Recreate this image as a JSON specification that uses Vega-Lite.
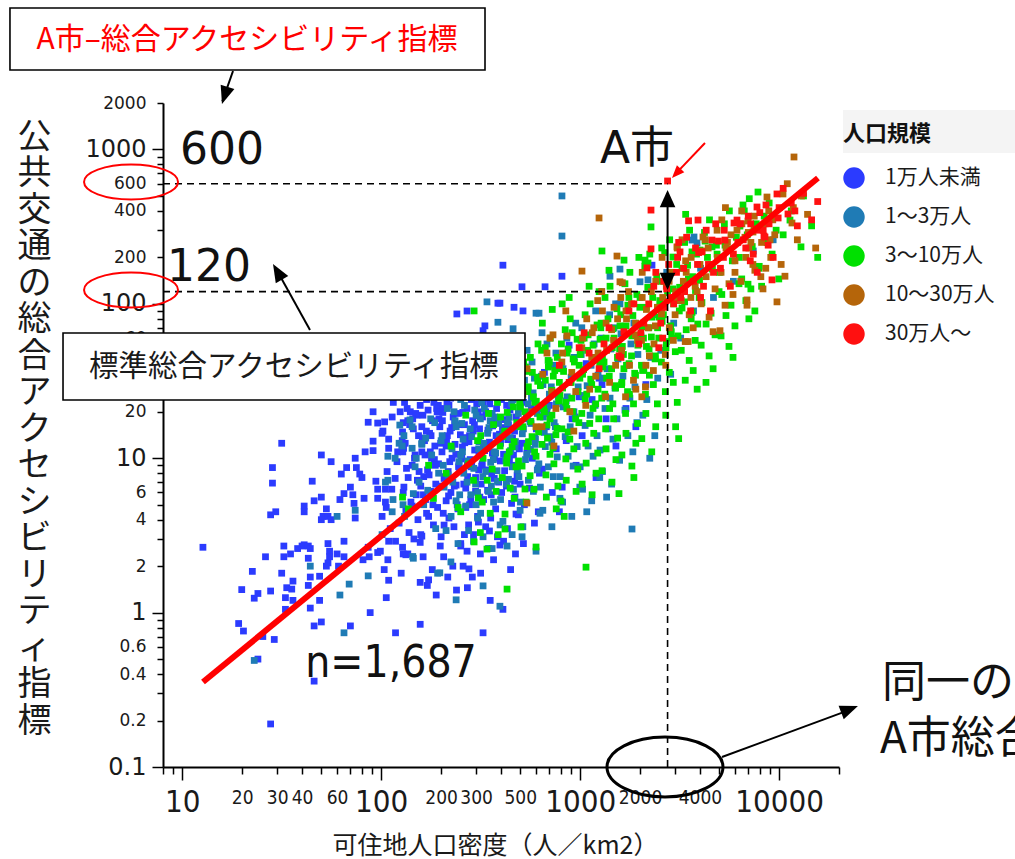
{
"$schema":"https://vega.github.io/schema/vega-lite/v6.json",
"width":676,"height":664,
"autosize":{"type":"none"},
"padding":{"left":163,"top":103,"right":176,"bottom":92},
"background":"white",
"config":{"view":{"stroke":null}},
"datasets":{
"pts":[
{"x":12.7,"y":2.65,"g":"a"},{"x":19.2,"y":0.85,"g":"a"},{"x":20.3,"y":0.76,"g":"a"},{"x":19.9,"y":1.41,"g":"a"},{"x":23,"y":1.24,"g":"a"},{"x":24,"y":1.33,"g":"a"},{"x":22.5,"y":1.85,"g":"a"},{"x":24,"y":0.5,"g":"a"},{"x":26.2,"y":2.3,"g":"a"},{"x":27.8,"y":0.19,"g":"a"},{"x":28.4,"y":8.7,"g":"a"},{"x":28.4,"y":6.9,"g":"a"},{"x":31.6,"y":12.5,"g":"a"},{"x":27.8,"y":4.3,"g":"a"},{"x":29.5,"y":4.5,"g":"a"},{"x":27.8,"y":1.38,"g":"a"},{"x":31.6,"y":1.8,"g":"a"},{"x":29,"y":0.67,"g":"a"},{"x":25.4,"y":0.7,"g":"a"},{"x":32.4,"y":2.7,"g":"a"},{"x":32.4,"y":2.3,"g":"a"},{"x":35,"y":2.4,"g":"a"},{"x":33,"y":1.25,"g":"a"},{"x":33.5,"y":1.45,"g":"a"},{"x":36,"y":1.2,"g":"a"},{"x":36,"y":1.6,"g":"a"},{"x":35.5,"y":1.42,"g":"a"},{"x":33,"y":1.05,"g":"a"},{"x":38,"y":2.6,"g":"a"},{"x":40,"y":2.7,"g":"a"},{"x":41,"y":2.75,"g":"a"},{"x":43,"y":2.7,"g":"a"},{"x":44,"y":2.6,"g":"a"},{"x":43,"y":2.25,"g":"a"},{"x":44,"y":1.7,"g":"a"},{"x":43,"y":1.5,"g":"a"},{"x":44,"y":1.07,"g":"a"},{"x":46,"y":0.82,"g":"a"},{"x":50,"y":0.87,"g":"a"},{"x":49,"y":1.72,"g":"a"},{"x":49,"y":1.2,"g":"a"},{"x":46,"y":0.36,"g":"a"},{"x":41,"y":4.9,"g":"a"},{"x":41,"y":4.5,"g":"a"},{"x":45,"y":7.1,"g":"a"},{"x":46,"y":5.3,"g":"a"},{"x":50,"y":5.6,"g":"a"},{"x":50,"y":10.5,"g":"a"},{"x":50,"y":4.0,"g":"a"},{"x":51,"y":4.2,"g":"a"},{"x":54,"y":4.2,"g":"a"},{"x":56,"y":4.0,"g":"a"},{"x":53,"y":4.7,"g":"a"},{"x":56,"y":9.5,"g":"a"},{"x":54,"y":2.8,"g":"a"},{"x":55,"y":2.5,"g":"a"},{"x":60,"y":2.4,"g":"a"},{"x":55,"y":2.3,"g":"a"},{"x":54,"y":2.1,"g":"a"},{"x":53,"y":2.0,"g":"a"},{"x":61,"y":2.0,"g":"a"},{"x":65,"y":2.9,"g":"a"},{"x":65,"y":2.3,"g":"a"},{"x":70,"y":0.82,"g":"a"},{"x":63,"y":7.9,"g":"a"},{"x":67,"y":8.7,"g":"a"},{"x":70,"y":6.5,"g":"a"},{"x":65,"y":5.9,"g":"a"},{"x":72,"y":5.8,"g":"a"},{"x":73,"y":5.1,"g":"a"},{"x":62,"y":5.4,"g":"a"},{"x":74,"y":10,"g":"a"},{"x":75,"y":8.7,"g":"a"},{"x":78,"y":7.9,"g":"a"},{"x":74,"y":4.1,"g":"a"},{"x":80,"y":7.5,"g":"a"},{"x":82,"y":5.5,"g":"a"},{"x":86,"y":17.1,"g":"a"},{"x":91,"y":20,"g":"a"},{"x":96,"y":16.9,"g":"a"},{"x":83,"y":11,"g":"a"},{"x":91,"y":11.2,"g":"a"},{"x":91,"y":12.9,"g":"a"},{"x":94,"y":7.1,"g":"a"},{"x":96,"y":6.3,"g":"a"},{"x":96,"y":5.5,"g":"a"},{"x":86,"y":2.65,"g":"a"},{"x":87,"y":2.3,"g":"a"},{"x":81,"y":2.2,"g":"a"},{"x":96,"y":2.45,"g":"a"},{"x":99,"y":2.5,"g":"a"},{"x":88,"y":1.0,"g":"a"},
{"x":101,"y":4.2,"g":"a"},{"x":104,"y":17.2,"g":"a"},{"x":105,"y":6.3,"g":"a"},{"x":106,"y":4.8,"g":"a"},{"x":109,"y":13.3,"g":"a"},{"x":109,"y":11.6,"g":"a"},{"x":109,"y":1.62,"g":"a"},{"x":106,"y":1.25,"g":"a"},{"x":109,"y":2.9,"g":"a"},{"x":118,"y":2.9,"g":"a"},{"x":118,"y":0.74,"g":"a"},{"x":113,"y":6.3,"g":"a"},{"x":121,"y":11,"g":"a"},{"x":107,"y":8.2,"g":"a"},{"x":120,"y":9.5,"g":"a"},{"x":102,"y":15,"g":"a"},{"x":115,"y":23,"g":"a"},{"x":124.5,"y":20,"g":"a"},{"x":111,"y":3.5,"g":"a"},{"x":105,"y":5.2,"g":"a"},{"x":117.5,"y":7.4,"g":"a"},{"x":101,"y":14.5,"g":"a"},{"x":113.5,"y":18.5,"g":"a"},{"x":123,"y":3.8,"g":"a"},{"x":108,"y":2.2,"g":"a"},{"x":103.5,"y":1.9,"g":"a"},
{"x":128,"y":14.8,"g":"a"},{"x":128,"y":2.65,"g":"a"},{"x":136,"y":2.4,"g":"a"},{"x":157,"y":1.57,"g":"a"},{"x":157,"y":0.84,"g":"a"},{"x":135,"y":21,"g":"a"},{"x":151,"y":19,"g":"a"},{"x":129,"y":17,"g":"a"},{"x":145,"y":15.5,"g":"a"},{"x":157,"y":22,"g":"a"},{"x":140,"y":20,"g":"a"},{"x":132,"y":12.5,"g":"a"},{"x":148,"y":10.5,"g":"a"},{"x":127.5,"y":13,"g":"a"},{"x":143,"y":9,"g":"a"},{"x":155,"y":8.2,"g":"a"},{"x":136.6,"y":7.5,"g":"a"},{"x":130,"y":6.5,"g":"a"},{"x":150,"y":5.8,"g":"a"},{"x":141,"y":5.2,"g":"a"},{"x":133,"y":4.6,"g":"a"},{"x":153,"y":4.0,"g":"a"},{"x":138,"y":3.3,"g":"a"},{"x":146,"y":3.0,"g":"a"},{"x":126,"y":1.8,"g":"a"},{"x":158,"y":6.6,"g":"a"},{"x":129.5,"y":11.6,"g":"a"},{"x":144,"y":18,"g":"a"},{"x":136,"y":17.5,"g":"a"},{"x":151,"y":25,"g":"a"},{"x":128.4,"y":11,"g":"a"},{"x":160,"y":3.13,"g":"a"},{"x":157,"y":2.85,"g":"a"},{"x":129,"y":2.4,"g":"a"},{"x":133,"y":2.37,"g":"a"},{"x":173,"y":1.63,"g":"a"},
{"x":169,"y":24,"g":"a"},{"x":190,"y":21,"g":"a"},{"x":162,"y":19,"g":"a"},{"x":181,"y":17.5,"g":"a"},{"x":197,"y":16,"g":"a"},{"x":175,"y":14.5,"g":"a"},{"x":165,"y":13,"g":"a"},{"x":186,"y":12,"g":"a"},{"x":160,"y":11,"g":"a"},{"x":179,"y":10,"g":"a"},{"x":194,"y":9.2,"g":"a"},{"x":171,"y":8.4,"g":"a"},{"x":163.5,"y":7.6,"g":"a"},{"x":188,"y":6.8,"g":"a"},{"x":177,"y":6.1,"g":"a"},{"x":167,"y":5.4,"g":"a"},{"x":192,"y":4.8,"g":"a"},{"x":173,"y":4.2,"g":"a"},{"x":183,"y":3.7,"g":"a"},{"x":158,"y":3.2,"g":"a"},{"x":198,"y":2.7,"g":"a"},{"x":162.4,"y":2.3,"g":"a"},{"x":180.6,"y":1.9,"g":"a"},{"x":170.5,"y":1.5,"g":"a"},{"x":189,"y":1.3,"g":"a"},{"x":161,"y":13.5,"g":"a"},{"x":176.5,"y":11,"g":"a"},{"x":185,"y":9.8,"g":"a"},{"x":168.6,"y":15,"g":"a"},{"x":193.6,"y":22,"g":"a"},{"x":170,"y":26,"g":"a"},{"x":191,"y":20,"g":"a"},
{"x":214,"y":23,"g":"a"},{"x":240,"y":27,"g":"a"},{"x":205,"y":21,"g":"a"},{"x":230,"y":18.5,"g":"a"},{"x":249,"y":16.5,"g":"a"},{"x":222,"y":15,"g":"a"},{"x":209,"y":13.5,"g":"a"},{"x":235,"y":12.3,"g":"a"},{"x":202,"y":11,"g":"a"},{"x":227,"y":10,"g":"a"},{"x":246,"y":9,"g":"a"},{"x":217,"y":8.2,"g":"a"},{"x":207,"y":7.4,"g":"a"},{"x":238,"y":6.7,"g":"a"},{"x":224,"y":6,"g":"a"},{"x":212,"y":5.3,"g":"a"},{"x":243,"y":4.7,"g":"a"},{"x":219,"y":4.1,"g":"a"},{"x":232,"y":3.6,"g":"a"},{"x":200,"y":3.1,"g":"a"},{"x":251,"y":2.7,"g":"a"},{"x":206,"y":2.3,"g":"a"},{"x":229,"y":2.0,"g":"a"},{"x":216,"y":1.7,"g":"a"},{"x":239,"y":1.4,"g":"a"},{"x":204,"y":19.8,"g":"a"},{"x":223,"y":24.5,"g":"a"},{"x":234,"y":17,"g":"a"},{"x":213,"y":12.8,"g":"a"},{"x":245,"y":8.8,"g":"a"},{"x":215,"y":14,"g":"a"},{"x":240,"y":86,"g":"a"},{"x":207,"y":3.69,"g":"a"},
{"x":269,"y":26,"g":"a"},{"x":302,"y":22.5,"g":"a"},{"x":257,"y":19.8,"g":"a"},{"x":288,"y":17.5,"g":"a"},{"x":312,"y":15.5,"g":"a"},{"x":278,"y":14,"g":"a"},{"x":263,"y":12.6,"g":"a"},{"x":295,"y":11.3,"g":"a"},{"x":254,"y":10.2,"g":"a"},{"x":285,"y":9.3,"g":"a"},{"x":309,"y":8.4,"g":"a"},{"x":272,"y":7.6,"g":"a"},{"x":260,"y":6.8,"g":"a"},{"x":298,"y":6.1,"g":"a"},{"x":282,"y":5.4,"g":"a"},{"x":266,"y":4.8,"g":"a"},{"x":305,"y":4.2,"g":"a"},{"x":275,"y":3.7,"g":"a"},{"x":291,"y":3.2,"g":"a"},{"x":251,"y":2.8,"g":"a"},{"x":315,"y":2.4,"g":"a"},{"x":258,"y":2.0,"g":"a"},{"x":287,"y":1.7,"g":"a"},{"x":271,"y":1.45,"g":"a"},{"x":300,"y":30,"g":"a"},{"x":256,"y":11.8,"g":"a"},{"x":280,"y":9.8,"g":"a"},{"x":294,"y":16.5,"g":"a"},{"x":268,"y":13.6,"g":"a"},{"x":307.5,"y":20,"g":"a"},{"x":262,"y":3.2,"g":"a"},{"x":270,"y":89.9,"g":"a"},{"x":276,"y":1.92,"g":"a"},{"x":270,"y":2.5,"g":"a"},{"x":308,"y":3.86,"g":"a"},
{"x":339,"y":24.5,"g":"a"},{"x":380,"y":21,"g":"a"},{"x":323,"y":18.5,"g":"a"},{"x":363,"y":16.2,"g":"a"},{"x":393,"y":14.3,"g":"a"},{"x":350,"y":12.7,"g":"a"},{"x":331,"y":11.2,"g":"a"},{"x":371,"y":10,"g":"a"},{"x":320,"y":8.9,"g":"a"},{"x":359,"y":7.9,"g":"a"},{"x":389,"y":7,"g":"a"},{"x":342.5,"y":6.2,"g":"a"},{"x":327,"y":5.4,"g":"a"},{"x":376,"y":4.7,"g":"a"},{"x":355,"y":4.1,"g":"a"},{"x":335,"y":3.6,"g":"a"},{"x":384,"y":3.1,"g":"a"},{"x":346,"y":2.6,"g":"a"},{"x":367,"y":2.2,"g":"a"},{"x":316,"y":1.8,"g":"a"},{"x":396,"y":28,"g":"a"},{"x":325,"y":23,"g":"a"},{"x":361,"y":19.5,"g":"a"},{"x":341,"y":12,"g":"a"},{"x":378,"y":14,"g":"a"},{"x":322,"y":9.2,"g":"a"},{"x":353,"y":1.2,"g":"a"},{"x":332,"y":72,"g":"a"},{"x":325,"y":67,"g":"a"},{"x":386,"y":101,"g":"a"},{"x":395,"y":101,"g":"a"},{"x":325,"y":0.74,"g":"a"},{"x":395,"y":2.74,"g":"a"},{"x":350,"y":3.38,"g":"a"},
{"x":427,"y":22,"g":"a"},{"x":478,"y":18.5,"g":"a"},{"x":407,"y":15.8,"g":"a"},{"x":457,"y":13.5,"g":"a"},{"x":495,"y":11.5,"g":"a"},{"x":441,"y":9.8,"g":"a"},{"x":417,"y":8.3,"g":"a"},{"x":468,"y":7.1,"g":"a"},{"x":403,"y":6,"g":"a"},{"x":452,"y":5.1,"g":"a"},{"x":489,"y":4.3,"g":"a"},{"x":431,"y":3.5,"g":"a"},{"x":412,"y":2.9,"g":"a"},{"x":473,"y":2.4,"g":"a"},{"x":447,"y":1.9,"g":"a"},{"x":421,"y":27,"g":"a"},{"x":484,"y":24.5,"g":"a"},{"x":436,"y":16.5,"g":"a"},{"x":462,"y":10.5,"g":"a"},{"x":398,"y":12.5,"g":"a"},{"x":499,"y":6.8,"g":"a"},{"x":409,"y":1.05,"g":"a"},{"x":409,"y":178,"g":"a"},{"x":465,"y":95,"g":"a"},{"x":476,"y":4.35,"g":"a"},
{"x":537,"y":19,"g":"a"},{"x":602,"y":15.5,"g":"a"},{"x":512.5,"y":12.5,"g":"a"},{"x":575,"y":10,"g":"a"},{"x":624,"y":8,"g":"a"},{"x":556,"y":6.4,"g":"a"},{"x":524.5,"y":5,"g":"a"},{"x":589,"y":3.8,"g":"a"},{"x":507,"y":25,"g":"a"},{"x":569,"y":21,"g":"a"},{"x":616,"y":4.5,"g":"a"},{"x":543,"y":12,"g":"a"},{"x":518.5,"y":2.8,"g":"a"},{"x":516,"y":90,"g":"a"},{"x":510,"y":129,"g":"a"},
{"x":676,"y":16,"g":"a"},{"x":758,"y":11.5,"g":"a"},{"x":645,"y":8.5,"g":"a"},{"x":724,"y":6,"g":"a"},{"x":786,"y":4.5,"g":"a"},{"x":700,"y":22,"g":"a"},{"x":661,"y":36,"g":"a"},{"x":666,"y":129,"g":"a"},
{"x":851,"y":13,"g":"a"},{"x":954,"y":9,"g":"a"},{"x":812,"y":6.5,"g":"a"},{"x":911,"y":18,"g":"a"},{"x":988,"y":25,"g":"a"},{"x":880,"y":54,"g":"a"},{"x":810,"y":151,"g":"a"},
{"x":1072,"y":41,"g":"a"},{"x":1202,"y":7.5,"g":"a"},{"x":1023,"y":14,"g":"a"},{"x":1148,"y":24,"g":"a"},{"x":1245,"y":33,"g":"a"},{"x":1350,"y":18,"g":"a"},{"x":1513,"y":12,"g":"a"},{"x":1288,"y":30,"g":"a"},{"x":1699,"y":21,"g":"a"},{"x":1905,"y":16,"g":"a"},{"x":2296,"y":178,"g":"a"},{"x":2139,"y":30,"g":"a"},
{"x":131,"y":23,"g":"a"},{"x":149,"y":19.5,"g":"a"},{"x":139,"y":16.5,"g":"a"},{"x":154,"y":14,"g":"a"},{"x":127,"y":12,"g":"a"},{"x":147,"y":10,"g":"a"},{"x":134,"y":8.6,"g":"a"},{"x":152,"y":7.2,"g":"a"},{"x":129,"y":6,"g":"a"},{"x":143,"y":4.9,"g":"a"},
{"x":165,"y":27,"g":"a"},{"x":184,"y":23,"g":"a"},{"x":172,"y":20.5,"g":"a"},{"x":195,"y":18,"g":"a"},{"x":160,"y":16,"g":"a"},{"x":178,"y":14,"g":"a"},{"x":199,"y":12.5,"g":"a"},{"x":166,"y":10.5,"g":"a"},{"x":187,"y":9,"g":"a"},{"x":174,"y":7.8,"g":"a"},{"x":196,"y":6.6,"g":"a"},{"x":163,"y":5.8,"g":"a"},{"x":182,"y":5,"g":"a"},{"x":169,"y":4.4,"g":"a"},
{"x":206,"y":29,"g":"a"},{"x":231,"y":25.5,"g":"a"},{"x":219,"y":22,"g":"a"},{"x":244,"y":19.5,"g":"a"},{"x":203,"y":17.5,"g":"a"},{"x":226,"y":15.8,"g":"a"},{"x":250,"y":14.2,"g":"a"},{"x":212,"y":12,"g":"a"},{"x":237,"y":10.6,"g":"a"},{"x":221,"y":9.5,"g":"a"},{"x":248,"y":8.5,"g":"a"},{"x":208,"y":7.6,"g":"a"},{"x":233,"y":6.6,"g":"a"},{"x":218,"y":5.7,"g":"a"},{"x":241,"y":5,"g":"a"},{"x":205,"y":4.4,"g":"a"},
{"x":258,"y":28,"g":"a"},{"x":284,"y":24,"g":"a"},{"x":270,"y":21,"g":"a"},{"x":301,"y":18.8,"g":"a"},{"x":262,"y":16.5,"g":"a"},{"x":290,"y":15,"g":"a"},{"x":276,"y":12.8,"g":"a"},{"x":310,"y":11,"g":"a"},{"x":253,"y":9.9,"g":"a"},{"x":283,"y":8.8,"g":"a"},{"x":298,"y":7.5,"g":"a"},{"x":266,"y":6.4,"g":"a"},{"x":313,"y":5.6,"g":"a"},{"x":278,"y":5,"g":"a"},
{"x":322,"y":26.5,"g":"a"},{"x":351,"y":22.5,"g":"a"},{"x":335,"y":20,"g":"a"},{"x":374,"y":17.5,"g":"a"},{"x":344,"y":15.2,"g":"a"},{"x":388,"y":13,"g":"a"},{"x":328,"y":11.8,"g":"a"},{"x":362,"y":10.8,"g":"a"},{"x":397,"y":9.6,"g":"a"},{"x":340,"y":8.4,"g":"a"},{"x":370,"y":7.4,"g":"a"},{"x":318,"y":6.8,"g":"a"},{"x":357,"y":5.8,"g":"a"},
{"x":402,"y":24,"g":"a"},{"x":444,"y":20.5,"g":"a"},{"x":420,"y":17.8,"g":"a"},{"x":468,"y":15,"g":"a"},{"x":433,"y":13.2,"g":"a"},{"x":490,"y":12.2,"g":"a"},{"x":412,"y":10.6,"g":"a"},{"x":456,"y":9,"g":"a"},{"x":482,"y":7.8,"g":"a"},{"x":426,"y":6.6,"g":"a"},{"x":470,"y":5.6,"g":"a"},
{"x":520,"y":23,"g":"a"},{"x":560,"y":17.3,"g":"a"},{"x":590,"y":13.6,"g":"a"},{"x":540,"y":10.8,"g":"a"},{"x":615,"y":8.6,"g":"a"},
{"x":23,"y":0.49,"g":"b"},{"x":65,"y":0.74,"g":"b"},{"x":62,"y":1.3,"g":"b"},{"x":69,"y":1.53,"g":"b"},{"x":44,"y":2.0,"g":"b"},{"x":74,"y":4.6,"g":"b"},{"x":86,"y":1.73,"g":"b"},{"x":60,"y":4.2,"g":"b"},{"x":105,"y":7.0,"g":"b"},{"x":117.5,"y":10,"g":"b"},{"x":101,"y":3.2,"g":"b"},{"x":113.5,"y":4.5,"g":"b"},{"x":123,"y":12.5,"g":"b"},{"x":124,"y":16.4,"g":"b"},{"x":139.5,"y":17.7,"g":"b"},{"x":143,"y":11.6,"g":"b"},{"x":108,"y":10.3,"g":"b"},{"x":108,"y":7.2,"g":"b"},{"x":114.6,"y":5.4,"g":"b"},{"x":128.7,"y":5.0,"g":"b"},{"x":131,"y":4.2,"g":"b"},{"x":145,"y":5.9,"g":"b"},{"x":160,"y":12.3,"g":"b"},{"x":145,"y":2.25,"g":"b"},{"x":148,"y":8.8,"g":"b"},{"x":127.5,"y":12,"g":"b"},{"x":143,"y":16,"g":"b"},{"x":155,"y":7,"g":"b"},{"x":136.6,"y":4.6,"g":"b"},{"x":130,"y":14,"g":"b"},{"x":150,"y":10,"g":"b"},
{"x":185.7,"y":17,"g":"b"},{"x":159.9,"y":12.5,"g":"b"},{"x":179.3,"y":10.5,"g":"b"},{"x":194.3,"y":8,"g":"b"},{"x":171.3,"y":6.2,"g":"b"},{"x":163.5,"y":5,"g":"b"},{"x":187.9,"y":3.5,"g":"b"},{"x":177.3,"y":18,"g":"b"},{"x":167.3,"y":13.5,"g":"b"},{"x":192.1,"y":1.8,"g":"b"},
{"x":235,"y":17.5,"g":"b"},{"x":202.4,"y":14,"g":"b"},{"x":227,"y":11.5,"g":"b"},{"x":246,"y":9.5,"g":"b"},{"x":216.8,"y":7.8,"g":"b"},{"x":207,"y":6.5,"g":"b"},{"x":237.8,"y":5.3,"g":"b"},{"x":224.4,"y":4.2,"g":"b"},{"x":211.8,"y":3.4,"g":"b"},{"x":243.2,"y":2.8,"g":"b"},{"x":219.2,"y":25,"g":"b"},{"x":232.2,"y":20,"g":"b"},{"x":200,"y":13,"g":"b"},{"x":250.8,"y":10.5,"g":"b"},{"x":224,"y":2.13,"g":"b"},{"x":197,"y":1.81,"g":"b"},{"x":238,"y":1.21,"g":"b"},{"x":144,"y":2.31,"g":"b"},
{"x":295,"y":20.5,"g":"b"},{"x":254,"y":16.8,"g":"b"},{"x":285,"y":13.8,"g":"b"},{"x":309,"y":11.5,"g":"b"},{"x":272,"y":9.6,"g":"b"},{"x":260,"y":8,"g":"b"},{"x":298,"y":6.8,"g":"b"},{"x":282,"y":5.8,"g":"b"},{"x":266,"y":4.9,"g":"b"},{"x":305,"y":4.1,"g":"b"},{"x":275,"y":3.4,"g":"b"},{"x":291,"y":2.9,"g":"b"},{"x":251,"y":24,"g":"b"},{"x":315,"y":18,"g":"b"},{"x":258,"y":13.3,"g":"b"},{"x":287,"y":28,"g":"b"},{"x":271,"y":9,"g":"b"},{"x":300,"y":5,"g":"b"},{"x":325,"y":1.49,"g":"b"},{"x":395,"y":1.10,"g":"b"},
{"x":371,"y":27,"g":"b"},{"x":320,"y":23,"g":"b"},{"x":359,"y":19.5,"g":"b"},{"x":389,"y":16.8,"g":"b"},{"x":342.5,"y":14.5,"g":"b"},{"x":327,"y":12.5,"g":"b"},{"x":376,"y":10.8,"g":"b"},{"x":355,"y":9.4,"g":"b"},{"x":335,"y":8.2,"g":"b"},{"x":384,"y":7.1,"g":"b"},{"x":346,"y":6.1,"g":"b"},{"x":367,"y":5.2,"g":"b"},{"x":316,"y":4.4,"g":"b"},{"x":396,"y":3.7,"g":"b"},{"x":325,"y":3.1,"g":"b"},{"x":361,"y":2.6,"g":"b"},{"x":341,"y":30,"g":"b"},{"x":378,"y":34,"g":"b"},{"x":322,"y":25.5,"g":"b"},{"x":353,"y":17.5,"g":"b"},{"x":370,"y":11,"g":"b"},{"x":340,"y":103,"g":"b"},
{"x":468,"y":30,"g":"b"},{"x":403,"y":26,"g":"b"},{"x":452,"y":22.5,"g":"b"},{"x":489,"y":19.5,"g":"b"},{"x":431,"y":17,"g":"b"},{"x":412,"y":14.8,"g":"b"},{"x":473,"y":12.8,"g":"b"},{"x":447,"y":11.2,"g":"b"},{"x":421.5,"y":9.7,"g":"b"},{"x":484,"y":8.4,"g":"b"},{"x":436,"y":7.3,"g":"b"},{"x":462,"y":6.3,"g":"b"},{"x":398,"y":5.4,"g":"b"},{"x":499,"y":4.6,"g":"b"},{"x":409,"y":3.9,"g":"b"},{"x":455,"y":3.2,"g":"b"},{"x":429,"y":2.7,"g":"b"},{"x":476,"y":38,"g":"b"},{"x":406,"y":35,"g":"b"},{"x":445,"y":13.6,"g":"b"},{"x":460,"y":69,"g":"b"},{"x":386,"y":76,"g":"b"},{"x":600,"y":87,"g":"b"},{"x":621,"y":87,"g":"b"},
{"x":589,"y":33,"g":"b"},{"x":507,"y":28.5,"g":"b"},{"x":569,"y":24.5,"g":"b"},{"x":616,"y":21,"g":"b"},{"x":543,"y":18,"g":"b"},{"x":518.5,"y":15.5,"g":"b"},{"x":596,"y":13.3,"g":"b"},{"x":562,"y":11.4,"g":"b"},{"x":531,"y":9.8,"g":"b"},{"x":609,"y":8.4,"g":"b"},{"x":549,"y":7.2,"g":"b"},{"x":582,"y":6.1,"g":"b"},{"x":501,"y":5.2,"g":"b"},{"x":628,"y":4.4,"g":"b"},{"x":515,"y":3.6,"g":"b"},{"x":573,"y":42,"g":"b"},{"x":541,"y":50,"g":"b"},{"x":600,"y":2.5,"g":"b"},{"x":510.5,"y":3.1,"g":"b"},
{"x":741,"y":40,"g":"b"},{"x":639,"y":34,"g":"b"},{"x":716,"y":29,"g":"b"},{"x":776,"y":25,"g":"b"},{"x":684,"y":21.5,"g":"b"},{"x":653,"y":18.5,"g":"b"},{"x":750,"y":16,"g":"b"},{"x":708,"y":13.8,"g":"b"},{"x":668,"y":11.9,"g":"b"},{"x":767,"y":10.2,"g":"b"},{"x":692,"y":8.8,"g":"b"},{"x":733,"y":7.6,"g":"b"},{"x":631,"y":6.5,"g":"b"},{"x":791,"y":5.5,"g":"b"},{"x":649,"y":4.6,"g":"b"},{"x":721,"y":3.6,"g":"b"},{"x":681,"y":55,"g":"b"},{"x":755,"y":48,"g":"b"},{"x":643,"y":65,"g":"b"},
{"x":933,"y":45,"g":"b"},{"x":803.5,"y":39,"g":"b"},{"x":901,"y":33.5,"g":"b"},{"x":977,"y":29,"g":"b"},{"x":861,"y":25,"g":"b"},{"x":822,"y":21.5,"g":"b"},{"x":944,"y":18.5,"g":"b"},{"x":891,"y":16,"g":"b"},{"x":841,"y":13.8,"g":"b"},{"x":965.5,"y":11.9,"g":"b"},{"x":870,"y":10.3,"g":"b"},{"x":922,"y":8.9,"g":"b"},{"x":794,"y":7.6,"g":"b"},{"x":996,"y":6.5,"g":"b"},{"x":816,"y":5.2,"g":"b"},{"x":907.5,"y":4.2,"g":"b"},{"x":857,"y":60,"g":"b"},{"x":950,"y":75,"g":"b"},{"x":810,"y":500,"g":"b"},{"x":810,"y":275,"g":"b"},
{"x":1175,"y":55,"g":"b"},{"x":1012,"y":47,"g":"b"},{"x":1135,"y":40,"g":"b"},{"x":1230,"y":34.5,"g":"b"},{"x":1084,"y":29.5,"g":"b"},{"x":1035,"y":25.5,"g":"b"},{"x":1189,"y":22,"g":"b"},{"x":1122,"y":19,"g":"b"},{"x":1059,"y":16.3,"g":"b"},{"x":1216,"y":14,"g":"b"},{"x":1096,"y":12,"g":"b"},{"x":1161,"y":10.3,"g":"b"},{"x":1000,"y":8.8,"g":"b"},{"x":1254,"y":7.5,"g":"b"},{"x":1028,"y":6.3,"g":"b"},{"x":1143,"y":5.3,"g":"b"},{"x":1079,"y":4.5,"g":"b"},{"x":1197,"y":90,"g":"b"},{"x":1019,"y":70,"g":"b"},
{"x":1479,"y":70,"g":"b"},{"x":1274,"y":60,"g":"b"},{"x":1429,"y":51,"g":"b"},{"x":1549,"y":44,"g":"b"},{"x":1365,"y":38,"g":"b"},{"x":1303,"y":33,"g":"b"},{"x":1497,"y":28.5,"g":"b"},{"x":1413,"y":24.5,"g":"b"},{"x":1333,"y":21,"g":"b"},{"x":1531,"y":18,"g":"b"},{"x":1380,"y":15.5,"g":"b"},{"x":1462,"y":13.3,"g":"b"},{"x":1259,"y":11.3,"g":"b"},{"x":1579,"y":9.7,"g":"b"},{"x":1294,"y":8.2,"g":"b"},{"x":1439,"y":6.8,"g":"b"},{"x":1358,"y":5.6,"g":"b"},{"x":1507,"y":100,"g":"b"},{"x":1283,"y":120,"g":"b"},{"x":1406,"y":85,"g":"b"},{"x":1412,"y":151,"g":"b"},{"x":1585,"y":168,"g":"b"},
{"x":1862,"y":75,"g":"b"},{"x":1604,"y":64,"g":"b"},{"x":1799,"y":55,"g":"b"},{"x":1950,"y":47,"g":"b"},{"x":1718,"y":40,"g":"b"},{"x":1640,"y":34,"g":"b"},{"x":1885,"y":29,"g":"b"},{"x":1778,"y":24.5,"g":"b"},{"x":1679,"y":20.5,"g":"b"},{"x":1927,"y":17,"g":"b"},{"x":1737,"y":14,"g":"b"},{"x":1840,"y":11,"g":"b"},{"x":1585,"y":100,"g":"b"},{"x":1822,"y":3.48,"g":"b"},{"x":1999,"y":139,"g":"b"},{"x":2192,"y":143,"g":"b"},
{"x":2344,"y":85,"g":"b"},{"x":2019,"y":62,"g":"b"},{"x":2264,"y":45,"g":"b"},{"x":2454,"y":33,"g":"b"},{"x":2163,"y":24,"g":"b"},{"x":2065,"y":19,"g":"b"},{"x":2372,"y":14,"g":"b"},{"x":2238,"y":10,"g":"b"},{"x":2952,"y":75,"g":"b"},{"x":2542,"y":50,"g":"b"},{"x":2851,"y":35,"g":"b"},{"x":3090,"y":110,"g":"b"},{"x":2723,"y":160,"g":"b"},{"x":3734,"y":271,"g":"b"},{"x":3648,"y":259,"g":"b"},{"x":3866,"y":248,"g":"b"},{"x":3715,"y":90,"g":"b"},{"x":3200,"y":60,"g":"b"},{"x":4678,"y":110,"g":"b"},{"x":4029,"y":170,"g":"b"},{"x":5889,"y":140,"g":"b"},{"x":7414,"y":220,"g":"b"},{"x":9333,"y":260,"g":"b"},
{"x":215,"y":21,"g":"b"},{"x":238,"y":16,"g":"b"},{"x":205,"y":9,"g":"b"},{"x":229,"y":7,"g":"b"},{"x":248,"y":5.8,"g":"b"},
{"x":262,"y":22,"g":"b"},{"x":300,"y":19,"g":"b"},{"x":280,"y":15.5,"g":"b"},{"x":310,"y":12.8,"g":"b"},{"x":256,"y":11,"g":"b"},{"x":292,"y":8.6,"g":"b"},{"x":270,"y":7,"g":"b"},{"x":305,"y":6,"g":"b"},
{"x":330,"y":21,"g":"b"},{"x":372,"y":18.5,"g":"b"},{"x":348,"y":15.8,"g":"b"},{"x":392,"y":13.8,"g":"b"},{"x":336,"y":11.6,"g":"b"},{"x":366,"y":9.8,"g":"b"},{"x":382,"y":8.3,"g":"b"},{"x":324,"y":7.6,"g":"b"},{"x":358,"y":6.6,"g":"b"},
{"x":418,"y":28,"g":"b"},{"x":460,"y":24,"g":"b"},{"x":498,"y":21,"g":"b"},{"x":440,"y":18.4,"g":"b"},{"x":486,"y":16,"g":"b"},{"x":410,"y":13.8,"g":"b"},{"x":470,"y":11.8,"g":"b"},{"x":432,"y":10.4,"g":"b"},{"x":455,"y":8.8,"g":"b"},{"x":492,"y":7.6,"g":"b"},{"x":425,"y":6.8,"g":"b"},
{"x":525,"y":32,"g":"b"},{"x":580,"y":26.5,"g":"b"},{"x":548,"y":22.5,"g":"b"},{"x":610,"y":19.5,"g":"b"},{"x":566,"y":16.8,"g":"b"},{"x":512,"y":14.4,"g":"b"},{"x":594,"y":12.3,"g":"b"},{"x":540,"y":10.6,"g":"b"},{"x":620,"y":9.2,"g":"b"},
{"x":650,"y":30,"g":"b"},{"x":700,"y":26,"g":"b"},{"x":760,"y":22.5,"g":"b"},{"x":680,"y":19.5,"g":"b"},{"x":740,"y":17,"g":"b"},{"x":660,"y":14.7,"g":"b"},{"x":720,"y":12.7,"g":"b"},
{"x":820,"y":38,"g":"b"},{"x":890,"y":31,"g":"b"},{"x":960,"y":27,"g":"b"},{"x":850,"y":23.5,"g":"b"},{"x":930,"y":20,"g":"b"},
{"x":128,"y":5.6,"g":"c"},{"x":137,"y":4.7,"g":"c"},{"x":173,"y":9,"g":"c"},{"x":183,"y":5.5,"g":"c"},{"x":224.4,"y":12,"g":"c"},{"x":211.8,"y":8,"g":"c"},{"x":243.2,"y":4.8,"g":"c"},{"x":282,"y":25,"g":"c"},{"x":266,"y":19,"g":"c"},{"x":305,"y":13,"g":"c"},{"x":275,"y":9.2,"g":"c"},{"x":291,"y":7.2,"g":"c"},{"x":251,"y":4.5,"g":"c"},{"x":315,"y":3.3,"g":"c"},{"x":258,"y":32,"g":"c"},{"x":293,"y":2.87,"g":"c"},{"x":340,"y":2.58,"g":"c"},{"x":308,"y":5.53,"g":"c"},{"x":293,"y":90,"g":"c"},
{"x":355,"y":32,"g":"c"},{"x":335,"y":27,"g":"c"},{"x":384,"y":23,"g":"c"},{"x":346,"y":19.5,"g":"c"},{"x":367,"y":16.5,"g":"c"},{"x":316,"y":14,"g":"c"},{"x":396,"y":12,"g":"c"},{"x":325,"y":10,"g":"c"},{"x":361,"y":8.5,"g":"c"},{"x":341,"y":7.2,"g":"c"},{"x":378,"y":6.1,"g":"c"},{"x":322,"y":5.2,"g":"c"},{"x":353,"y":4.4,"g":"c"},{"x":370,"y":38,"g":"c"},{"x":337,"y":42,"g":"c"},{"x":387,"y":3.2,"g":"c"},
{"x":447,"y":40,"g":"c"},{"x":421.5,"y":34,"g":"c"},{"x":484,"y":29,"g":"c"},{"x":436,"y":25,"g":"c"},{"x":462,"y":21.5,"g":"c"},{"x":398,"y":18.5,"g":"c"},{"x":499,"y":16,"g":"c"},{"x":409,"y":13.8,"g":"c"},{"x":455,"y":11.9,"g":"c"},{"x":429,"y":10.2,"g":"c"},{"x":476,"y":8.8,"g":"c"},{"x":406,"y":7.5,"g":"c"},{"x":445,"y":6.4,"g":"c"},{"x":466,"y":5.5,"g":"c"},{"x":425,"y":48,"g":"c"},{"x":488,"y":28,"g":"c"},{"x":427,"y":9.3,"g":"c"},{"x":419,"y":4.35,"g":"c"},{"x":419,"y":3.48,"g":"c"},{"x":429,"y":1.42,"g":"c"},
{"x":562,"y":45,"g":"c"},{"x":531,"y":39,"g":"c"},{"x":609,"y":33.5,"g":"c"},{"x":549,"y":29,"g":"c"},{"x":582,"y":25,"g":"c"},{"x":501,"y":21.5,"g":"c"},{"x":628,"y":18.5,"g":"c"},{"x":515,"y":16,"g":"c"},{"x":573,"y":13.8,"g":"c"},{"x":541,"y":11.9,"g":"c"},{"x":600,"y":10.3,"g":"c"},{"x":510.5,"y":8.9,"g":"c"},{"x":560,"y":7.7,"g":"c"},{"x":586,"y":6.3,"g":"c"},{"x":535,"y":5.2,"g":"c"},{"x":614,"y":55,"g":"c"},{"x":537,"y":36.5,"g":"c"},{"x":602,"y":23.4,"g":"c"},{"x":512,"y":30,"g":"c"},{"x":504,"y":3.59,"g":"c"},{"x":600,"y":2.66,"g":"c"},{"x":528,"y":6.32,"g":"c"},
{"x":708,"y":60,"g":"c"},{"x":668,"y":52,"g":"c"},{"x":767,"y":45,"g":"c"},{"x":692,"y":39,"g":"c"},{"x":733,"y":34,"g":"c"},{"x":631,"y":29.5,"g":"c"},{"x":791,"y":25.5,"g":"c"},{"x":649,"y":22,"g":"c"},{"x":721,"y":19,"g":"c"},{"x":681,"y":16.4,"g":"c"},{"x":755,"y":14.2,"g":"c"},{"x":643,"y":12.3,"g":"c"},{"x":705,"y":10.6,"g":"c"},{"x":738,"y":9.2,"g":"c"},{"x":673,"y":7.8,"g":"c"},{"x":773,"y":6.6,"g":"c"},{"x":676,"y":5.6,"g":"c"},{"x":758,"y":4.7,"g":"c"},{"x":645.5,"y":75,"g":"c"},{"x":724,"y":92,"g":"c"},{"x":786,"y":31,"g":"c"},{"x":700,"y":42,"g":"c"},{"x":661,"y":20,"g":"c"},
{"x":891,"y":80,"g":"c"},{"x":841,"y":68,"g":"c"},{"x":965.5,"y":59,"g":"c"},{"x":870,"y":51,"g":"c"},{"x":922,"y":44,"g":"c"},{"x":794,"y":38,"g":"c"},{"x":996,"y":33,"g":"c"},{"x":816,"y":28.5,"g":"c"},{"x":907.5,"y":24.5,"g":"c"},{"x":857,"y":21,"g":"c"},{"x":950,"y":18,"g":"c"},{"x":809,"y":15.5,"g":"c"},{"x":887,"y":13.3,"g":"c"},{"x":929,"y":11.5,"g":"c"},{"x":847,"y":9.9,"g":"c"},{"x":973,"y":8.5,"g":"c"},{"x":851,"y":7.2,"g":"c"},{"x":954,"y":6.1,"g":"c"},{"x":812,"y":100,"g":"c"},{"x":911.5,"y":65,"g":"c"},{"x":988.5,"y":40,"g":"c"},{"x":880.5,"y":110,"g":"c"},{"x":831,"y":4.2,"g":"c"},{"x":801,"y":5.28,"g":"c"},
{"x":1122,"y":100,"g":"c"},{"x":1059,"y":85,"g":"c"},{"x":1216,"y":73,"g":"c"},{"x":1096,"y":63,"g":"c"},{"x":1161,"y":54,"g":"c"},{"x":1000,"y":47,"g":"c"},{"x":1254,"y":40.5,"g":"c"},{"x":1028,"y":35,"g":"c"},{"x":1143,"y":30,"g":"c"},{"x":1079,"y":26,"g":"c"},{"x":1197,"y":22.5,"g":"c"},{"x":1019,"y":19.5,"g":"c"},{"x":1117,"y":16.8,"g":"c"},{"x":1170,"y":14.5,"g":"c"},{"x":1067,"y":12.5,"g":"c"},{"x":1225,"y":10.8,"g":"c"},{"x":1072,"y":9.3,"g":"c"},{"x":1202,"y":8,"g":"c"},{"x":1023,"y":6.8,"g":"c"},{"x":1148,"y":5.8,"g":"c"},{"x":1245,"y":120,"g":"c"},{"x":1109,"y":130,"g":"c"},{"x":1047,"y":60,"g":"c"},{"x":1175,"y":44,"g":"c"},{"x":1070,"y":1.97,"g":"c"},
{"x":1413,"y":130,"g":"c"},{"x":1333,"y":110,"g":"c"},{"x":1531,"y":93,"g":"c"},{"x":1380,"y":80,"g":"c"},{"x":1462,"y":69,"g":"c"},{"x":1259,"y":59,"g":"c"},{"x":1579,"y":51,"g":"c"},{"x":1294,"y":44,"g":"c"},{"x":1439,"y":38,"g":"c"},{"x":1358,"y":33,"g":"c"},{"x":1507,"y":28.5,"g":"c"},{"x":1283,"y":24.5,"g":"c"},{"x":1406,"y":21,"g":"c"},{"x":1473,"y":18,"g":"c"},{"x":1343,"y":15.5,"g":"c"},{"x":1542,"y":13.5,"g":"c"},{"x":1350,"y":11.5,"g":"c"},{"x":1513,"y":9.8,"g":"c"},{"x":1288,"y":8.3,"g":"c"},{"x":1445,"y":7,"g":"c"},{"x":1567,"y":5.9,"g":"c"},{"x":1396,"y":165,"g":"c"},{"x":1318,"y":42,"g":"c"},{"x":1479,"y":60,"g":"c"},{"x":1274,"y":75,"g":"c"},{"x":1287,"y":220,"g":"c"},{"x":1661,"y":192,"g":"c"},
{"x":1778,"y":160,"g":"c"},{"x":1679,"y":135,"g":"c"},{"x":1927,"y":115,"g":"c"},{"x":1737,"y":98,"g":"c"},{"x":1840,"y":84,"g":"c"},{"x":1585,"y":72,"g":"c"},{"x":1988,"y":62,"g":"c"},{"x":1629,"y":53,"g":"c"},{"x":1812,"y":46,"g":"c"},{"x":1710,"y":40,"g":"c"},{"x":1897,"y":34.5,"g":"c"},{"x":1615,"y":30,"g":"c"},{"x":1770,"y":26,"g":"c"},{"x":1854,"y":22.5,"g":"c"},{"x":1691,"y":19.5,"g":"c"},{"x":1942,"y":16.8,"g":"c"},{"x":1699,"y":14.5,"g":"c"},{"x":1905,"y":12.5,"g":"c"},{"x":1621,"y":10.5,"g":"c"},{"x":1820,"y":8.9,"g":"c"},{"x":1973,"y":200,"g":"c"},{"x":1758,"y":110,"g":"c"},{"x":1659,"y":38,"g":"c"},{"x":1862,"y":7.5,"g":"c"},
{"x":2238,"y":210,"g":"c"},{"x":2113,"y":175,"g":"c"},{"x":2426,"y":150,"g":"c"},{"x":2187,"y":128,"g":"c"},{"x":2316,"y":110,"g":"c"},{"x":1995,"y":95,"g":"c"},{"x":2502,"y":82,"g":"c"},{"x":2051,"y":71,"g":"c"},{"x":2280,"y":61,"g":"c"},{"x":2153,"y":53,"g":"c"},{"x":2388,"y":46,"g":"c"},{"x":2033,"y":40,"g":"c"},{"x":2228,"y":34.5,"g":"c"},{"x":2334,"y":30,"g":"c"},{"x":2129,"y":26,"g":"c"},{"x":2444,"y":22.5,"g":"c"},{"x":2139,"y":19.5,"g":"c"},{"x":2398,"y":16,"g":"c"},{"x":2041,"y":13.4,"g":"c"},{"x":2290,"y":11,"g":"c"},{"x":2484,"y":60,"g":"c"},{"x":2212,"y":70,"g":"c"},{"x":2089,"y":38,"g":"c"},{"x":2270,"y":315,"g":"c"},{"x":2118,"y":192,"g":"c"},{"x":2192,"y":184,"g":"c"},
{"x":2818,"y":260,"g":"c"},{"x":2660,"y":215,"g":"c"},{"x":3055,"y":180,"g":"c"},{"x":2753,"y":150,"g":"c"},{"x":2916,"y":125,"g":"c"},{"x":2512,"y":105,"g":"c"},{"x":3150,"y":90,"g":"c"},{"x":2582,"y":77,"g":"c"},{"x":2871,"y":66,"g":"c"},{"x":2710,"y":57,"g":"c"},{"x":3007,"y":49,"g":"c"},{"x":2560,"y":42,"g":"c"},{"x":2806,"y":36,"g":"c"},{"x":2939,"y":31,"g":"c"},{"x":2680,"y":27,"g":"c"},{"x":3077,"y":23,"g":"c"},{"x":2693,"y":19,"g":"c"},{"x":3019,"y":16,"g":"c"},{"x":2570,"y":230,"g":"c"},{"x":2884,"y":60,"g":"c"},{"x":3127,"y":13.4,"g":"c"},{"x":2928,"y":201,"g":"c"},
{"x":3548,"y":300,"g":"c"},{"x":3349,"y":250,"g":"c"},{"x":3845,"y":210,"g":"c"},{"x":3466,"y":178,"g":"c"},{"x":3671,"y":150,"g":"c"},{"x":3162,"y":128,"g":"c"},{"x":3965,"y":110,"g":"c"},{"x":3251,"y":94,"g":"c"},{"x":3614,"y":80,"g":"c"},{"x":3412,"y":68,"g":"c"},{"x":3785,"y":58,"g":"c"},{"x":3222,"y":50,"g":"c"},{"x":3532,"y":43,"g":"c"},{"x":3700,"y":37,"g":"c"},{"x":3374,"y":32,"g":"c"},{"x":3873,"y":28,"g":"c"},{"x":3390,"y":380,"g":"c"},{"x":3648,"y":217,"g":"c"},{"x":4003,"y":223,"g":"c"},{"x":4598,"y":234,"g":"c"},{"x":4290,"y":31,"g":"c"},
{"x":4467,"y":350,"g":"c"},{"x":4216,"y":290,"g":"c"},{"x":4841,"y":240,"g":"c"},{"x":4363,"y":200,"g":"c"},{"x":4622,"y":168,"g":"c"},{"x":3981,"y":142,"g":"c"},{"x":4992,"y":120,"g":"c"},{"x":4092,"y":102,"g":"c"},{"x":4550,"y":87,"g":"c"},{"x":4295,"y":74,"g":"c"},{"x":4765,"y":63,"g":"c"},{"x":4057,"y":54,"g":"c"},{"x":4447,"y":46,"g":"c"},{"x":4658,"y":38,"g":"c"},{"x":4248,"y":255,"g":"c"},{"x":4877,"y":210,"g":"c"},
{"x":5623,"y":400,"g":"c"},{"x":5308,"y":330,"g":"c"},{"x":6095,"y":270,"g":"c"},{"x":5493,"y":225,"g":"c"},{"x":5819,"y":190,"g":"c"},{"x":5012,"y":160,"g":"c"},{"x":6285,"y":135,"g":"c"},{"x":5152,"y":115,"g":"c"},{"x":5729,"y":98,"g":"c"},{"x":5408,"y":84,"g":"c"},{"x":5999,"y":72,"g":"c"},{"x":5107,"y":62,"g":"c"},{"x":5598,"y":53,"g":"c"},{"x":5864,"y":45,"g":"c"},{"x":5348,"y":240,"g":"c"},{"x":6582,"y":437,"g":"c"},{"x":6356,"y":319,"g":"c"},{"x":6975,"y":134,"g":"c"},
{"x":7080,"y":480,"g":"c"},{"x":6682,"y":400,"g":"c"},{"x":7673,"y":330,"g":"c"},{"x":6916,"y":280,"g":"c"},{"x":7326,"y":235,"g":"c"},{"x":6310,"y":200,"g":"c"},{"x":7913,"y":170,"g":"c"},{"x":6487,"y":145,"g":"c"},{"x":7212,"y":125,"g":"c"},{"x":6808,"y":105,"g":"c"},{"x":7553,"y":90,"g":"c"},{"x":6430,"y":140,"g":"c"},{"x":7048,"y":80,"g":"c"},{"x":7831,"y":530,"g":"c"},
{"x":8912,"y":450,"g":"c"},{"x":8412,"y":370,"g":"c"},{"x":9659,"y":300,"g":"c"},{"x":8706,"y":250,"g":"c"},{"x":9222,"y":210,"g":"c"},{"x":7943,"y":175,"g":"c"},{"x":9961,"y":145,"g":"c"},{"x":8166,"y":130,"g":"c"},{"x":12880,"y":234,"g":"c"},{"x":11340,"y":349,"g":"c"},{"x":11510,"y":400,"g":"c"},{"x":14570,"y":320,"g":"c"},{"x":10480,"y":280,"g":"c"},{"x":13260,"y":500,"g":"c"},{"x":15630,"y":200,"g":"c"},
{"x":410,"y":30,"g":"c"},{"x":455,"y":26.5,"g":"c"},{"x":497,"y":23,"g":"c"},{"x":430,"y":19.8,"g":"c"},{"x":480,"y":17,"g":"c"},{"x":418,"y":15,"g":"c"},{"x":465,"y":12.8,"g":"c"},{"x":440,"y":11,"g":"c"},{"x":490,"y":9.6,"g":"c"},
{"x":520,"y":42,"g":"c"},{"x":575,"y":36,"g":"c"},{"x":612,"y":31.5,"g":"c"},{"x":545,"y":27,"g":"c"},{"x":592,"y":23,"g":"c"},{"x":528,"y":20,"g":"c"},{"x":565,"y":17.3,"g":"c"},{"x":618,"y":14.8,"g":"c"},{"x":550,"y":12.8,"g":"c"},{"x":590,"y":11,"g":"c"},
{"x":640,"y":50,"g":"c"},{"x":690,"y":43,"g":"c"},{"x":745,"y":37,"g":"c"},{"x":668,"y":32,"g":"c"},{"x":720,"y":27.5,"g":"c"},{"x":780,"y":23.5,"g":"c"},{"x":655,"y":21,"g":"c"},{"x":705,"y":18,"g":"c"},{"x":765,"y":15.6,"g":"c"},{"x":685,"y":13.5,"g":"c"},{"x":730,"y":11.7,"g":"c"},
{"x":805,"y":55,"g":"c"},{"x":860,"y":48,"g":"c"},{"x":935,"y":42,"g":"c"},{"x":825,"y":36.5,"g":"c"},{"x":900,"y":31,"g":"c"},{"x":975,"y":27,"g":"c"},{"x":845,"y":23,"g":"c"},{"x":915,"y":20,"g":"c"},{"x":985,"y":17,"g":"c"},{"x":870,"y":14.8,"g":"c"},
{"x":1010,"y":58,"g":"c"},{"x":1090,"y":50,"g":"c"},{"x":1190,"y":43.5,"g":"c"},{"x":1040,"y":37.5,"g":"c"},{"x":1130,"y":32.5,"g":"c"},{"x":1230,"y":28,"g":"c"},{"x":1060,"y":24,"g":"c"},{"x":1160,"y":21,"g":"c"},{"x":1240,"y":18,"g":"c"},
{"x":1270,"y":70,"g":"c"},{"x":1350,"y":60,"g":"c"},{"x":1450,"y":52,"g":"c"},{"x":1540,"y":45,"g":"c"},{"x":1300,"y":39,"g":"c"},{"x":1400,"y":34,"g":"c"},{"x":1500,"y":29.5,"g":"c"},{"x":1330,"y":26,"g":"c"},{"x":1460,"y":22.5,"g":"c"},
{"x":1600,"y":85,"g":"c"},{"x":1700,"y":72,"g":"c"},{"x":1820,"y":62,"g":"c"},{"x":1950,"y":54,"g":"c"},{"x":1650,"y":47,"g":"c"},{"x":1760,"y":41,"g":"c"},{"x":1880,"y":35.5,"g":"c"},{"x":1620,"y":31,"g":"c"},{"x":1730,"y":27,"g":"c"},
{"x":2000,"y":110,"g":"c"},{"x":2150,"y":95,"g":"c"},{"x":2300,"y":82,"g":"c"},{"x":2450,"y":70,"g":"c"},{"x":2080,"y":60,"g":"c"},{"x":2220,"y":51,"g":"c"},{"x":2380,"y":44,"g":"c"},{"x":2060,"y":37,"g":"c"},
{"x":2550,"y":140,"g":"c"},{"x":2750,"y":118,"g":"c"},{"x":2950,"y":100,"g":"c"},{"x":2620,"y":85,"g":"c"},{"x":2850,"y":72,"g":"c"},{"x":3100,"y":62,"g":"c"},{"x":2700,"y":52,"g":"c"},
{"x":3250,"y":170,"g":"c"},{"x":3500,"y":145,"g":"c"},{"x":3800,"y":122,"g":"c"},{"x":3350,"y":103,"g":"c"},{"x":3650,"y":88,"g":"c"},{"x":3900,"y":74,"g":"c"},
{"x":540,"y":5.13,"g":"d"},{"x":515,"y":26,"g":"d"},{"x":573,"y":20,"g":"d"},{"x":541,"y":38,"g":"d"},{"x":600,"y":16,"g":"d"},{"x":510.5,"y":46,"g":"d"},{"x":649,"y":35,"g":"d"},{"x":721,"y":27,"g":"d"},{"x":681,"y":48,"g":"d"},{"x":755,"y":21,"g":"d"},{"x":643,"y":16,"g":"d"},{"x":705,"y":60,"g":"d"},{"x":738,"y":12,"g":"d"},{"x":730,"y":63,"g":"d"},{"x":816,"y":48,"g":"d"},{"x":907.5,"y":36,"g":"d"},{"x":857,"y":62,"g":"d"},{"x":950,"y":27,"g":"d"},{"x":809,"y":42,"g":"d"},{"x":887,"y":20,"g":"d"},{"x":929,"y":15,"g":"d"},{"x":847,"y":90,"g":"d"},
{"x":1028,"y":60,"g":"d"},{"x":1143,"y":45,"g":"d"},{"x":1079,"y":80,"g":"d"},{"x":1197,"y":34,"g":"d"},{"x":1019,"y":52,"g":"d"},{"x":1117,"y":28,"g":"d"},{"x":1170,"y":70,"g":"d"},{"x":1067,"y":22,"g":"d"},{"x":1225,"y":105,"g":"d"},{"x":1244,"y":360,"g":"d"},{"x":1021,"y":163,"g":"d"},
{"x":1294,"y":90,"g":"d"},{"x":1439,"y":68,"g":"d"},{"x":1358,"y":50,"g":"d"},{"x":1507,"y":40,"g":"d"},{"x":1283,"y":120,"g":"d"},{"x":1406,"y":31,"g":"d"},{"x":1473,"y":58,"g":"d"},{"x":1343,"y":25,"g":"d"},{"x":1542,"y":80,"g":"d"},{"x":1531,"y":204,"g":"d"},{"x":1585,"y":139,"g":"d"},
{"x":1629,"y":137,"g":"d"},{"x":1812,"y":100,"g":"d"},{"x":1710,"y":80,"g":"d"},{"x":1897,"y":63,"g":"d"},{"x":1615,"y":50,"g":"d"},{"x":1770,"y":40,"g":"d"},{"x":1854,"y":32,"g":"d"},{"x":1691,"y":25,"g":"d"},{"x":1942,"y":58,"g":"d"},{"x":1699,"y":90,"g":"d"},{"x":1905,"y":28,"g":"d"},
{"x":2051,"y":160,"g":"d"},{"x":2280,"y":120,"g":"d"},{"x":2153,"y":92,"g":"d"},{"x":2388,"y":72,"g":"d"},{"x":2033,"y":58,"g":"d"},{"x":2228,"y":46,"g":"d"},{"x":2334,"y":37,"g":"d"},{"x":2129,"y":29,"g":"d"},{"x":2444,"y":95,"g":"d"},{"x":2139,"y":40,"g":"d"},{"x":2398,"y":140,"g":"d"},{"x":2041,"y":25,"g":"d"},
{"x":2582,"y":200,"g":"d"},{"x":2871,"y":160,"g":"d"},{"x":2710,"y":130,"g":"d"},{"x":3007,"y":105,"g":"d"},{"x":2560,"y":86,"g":"d"},{"x":2806,"y":70,"g":"d"},{"x":2939,"y":58,"g":"d"},{"x":2680,"y":47,"g":"d"},{"x":3077,"y":230,"g":"d"},{"x":2693,"y":40,"g":"d"},{"x":3019,"y":120,"g":"d"},{"x":2570,"y":90,"g":"d"},
{"x":3251,"y":260,"g":"d"},{"x":3614,"y":200,"g":"d"},{"x":3412,"y":160,"g":"d"},{"x":3785,"y":130,"g":"d"},{"x":3222,"y":105,"g":"d"},{"x":3532,"y":85,"g":"d"},{"x":3700,"y":70,"g":"d"},{"x":3374,"y":57,"g":"d"},{"x":3873,"y":120,"g":"d"},{"x":3390,"y":190,"g":"d"},{"x":3067,"y":234,"g":"d"},{"x":4144,"y":271,"g":"d"},{"x":3489,"y":57,"g":"d"},
{"x":4092,"y":220,"g":"d"},{"x":4550,"y":180,"g":"d"},{"x":4295,"y":150,"g":"d"},{"x":4765,"y":125,"g":"d"},{"x":4057,"y":100,"g":"d"},{"x":4447,"y":82,"g":"d"},{"x":4658,"y":66,"g":"d"},{"x":4248,"y":260,"g":"d"},{"x":4877,"y":300,"g":"d"},{"x":5044,"y":67,"g":"d"},
{"x":5152,"y":350,"g":"d"},{"x":5729,"y":280,"g":"d"},{"x":5408,"y":230,"g":"d"},{"x":5999,"y":190,"g":"d"},{"x":5107,"y":160,"g":"d"},{"x":5598,"y":135,"g":"d"},{"x":5864,"y":115,"g":"d"},{"x":5348,"y":98,"g":"d"},{"x":6140,"y":300,"g":"d"},{"x":5373,"y":420,"g":"d"},
{"x":6975,"y":344,"g":"d"},{"x":6895,"y":106,"g":"d"},{"x":6895,"y":98,"g":"d"},{"x":7478,"y":305,"g":"d"},{"x":7392,"y":292,"g":"d"},{"x":8200,"y":305,"g":"d"},{"x":8296,"y":125,"g":"d"},{"x":6487,"y":400,"g":"d"},{"x":7212,"y":250,"g":"d"},{"x":6808,"y":200,"g":"d"},{"x":7553,"y":165,"g":"d"},{"x":6430,"y":140,"g":"d"},{"x":7048,"y":230,"g":"d"},{"x":7383,"y":180,"g":"d"},{"x":6733,"y":270,"g":"d"},
{"x":8690,"y":492,"g":"d"},{"x":10458,"y":515,"g":"d"},{"x":10700,"y":151,"g":"d"},{"x":9756,"y":103,"g":"d"},{"x":11604,"y":334,"g":"d"},{"x":8165,"y":250,"g":"d"},{"x":9079,"y":200,"g":"d"},{"x":8570,"y":170,"g":"d"},{"x":9508,"y":280,"g":"d"},{"x":8094,"y":150,"g":"d"},{"x":8872,"y":400,"g":"d"},{"x":9293,"y":350,"g":"d"},{"x":11880,"y":894,"g":"d"},{"x":12350,"y":260,"g":"d"},{"x":10990,"y":600,"g":"d"},{"x":13900,"y":380,"g":"d"},{"x":10240,"y":180,"g":"d"},{"x":12950,"y":500,"g":"d"},{"x":15270,"y":230,"g":"d"},{"x":11790,"y":420,"g":"d"},
{"x":1150,"y":65,"g":"d"},{"x":1230,"y":48,"g":"d"},{"x":1350,"y":75,"g":"d"},{"x":1480,"y":95,"g":"d"},{"x":1600,"y":110,"g":"d"},{"x":1750,"y":120,"g":"d"},{"x":1900,"y":75,"g":"d"},{"x":2050,"y":110,"g":"d"},{"x":2200,"y":70,"g":"d"},{"x":2350,"y":55,"g":"d"},{"x":2600,"y":110,"g":"d"},{"x":2800,"y":140,"g":"d"},{"x":3000,"y":85,"g":"d"},{"x":3300,"y":140,"g":"d"},{"x":3600,"y":110,"g":"d"},{"x":4000,"y":180,"g":"d"},{"x":4400,"y":230,"g":"d"},{"x":4900,"y":200,"g":"d"},{"x":5500,"y":250,"g":"d"},{"x":6000,"y":160,"g":"d"},{"x":6500,"y":330,"g":"d"},{"x":7000,"y":290,"g":"d"},{"x":7500,"y":370,"g":"d"},{"x":8500,"y":330,"g":"d"},{"x":9000,"y":260,"g":"d"},
{"x":786,"y":40,"g":"e"},{"x":988.5,"y":52,"g":"e"},{"x":880.5,"y":31,"g":"e"},{"x":1245,"y":38,"g":"e"},{"x":1109,"y":48,"g":"e"},{"x":1047,"y":65,"g":"e"},{"x":1567,"y":46,"g":"e"},{"x":1396,"y":70,"g":"e"},{"x":1318,"y":55,"g":"e"},{"x":1973,"y":55,"g":"e"},{"x":1758,"y":90,"g":"e"},{"x":1659,"y":66,"g":"e"},{"x":1862,"y":100,"g":"e"},{"x":1604,"y":45,"g":"e"},{"x":2270,"y":405,"g":"e"},{"x":2270,"y":227,"g":"e"},{"x":2167,"y":171,"g":"e"},{"x":2484,"y":52,"g":"e"},{"x":2212,"y":100,"g":"e"},{"x":2089,"y":75,"g":"e"},{"x":2344,"y":130,"g":"e"},{"x":2019,"y":65,"g":"e"},{"x":2750,"y":625,"g":"e"},{"x":3127,"y":250,"g":"e"},{"x":2786,"y":180,"g":"e"},{"x":2630,"y":140,"g":"e"},{"x":2952,"y":100,"g":"e"},{"x":2542,"y":75,"g":"e"},{"x":2851,"y":110,"g":"e"},{"x":3090,"y":200,"g":"e"},{"x":2723,"y":125,"g":"e"},{"x":2600,"y":60,"g":"e"},{"x":3937,"y":215,"g":"e"},{"x":3507,"y":345,"g":"e"},{"x":3311,"y":170,"g":"e"},{"x":3715,"y":140,"g":"e"},{"x":3200,"y":110,"g":"e"},{"x":3589,"y":90,"g":"e"},{"x":3889,"y":180,"g":"e"},{"x":3428,"y":270,"g":"e"},{"x":3911,"y":349,"g":"e"},{"x":3176,"y":217,"g":"e"},{"x":4096,"y":217,"g":"e"},{"x":4956,"y":255,"g":"e"},{"x":4415,"y":180,"g":"e"},{"x":4168,"y":130,"g":"e"},{"x":4678,"y":160,"g":"e"},{"x":4029,"y":110,"g":"e"},{"x":4518,"y":90,"g":"e"},{"x":4598,"y":259,"g":"e"},{"x":5344,"y":259,"g":"e"},{"x":5248,"y":200,"g":"e"},{"x":5889,"y":210,"g":"e"},{"x":5072,"y":170,"g":"e"},{"x":5689,"y":130,"g":"e"},{"x":5933,"y":334,"g":"e"},{"x":6142,"y":349,"g":"e"},{"x":7741,"y":424,"g":"e"},{"x":8592,"y":437,"g":"e"},{"x":8393,"y":275,"g":"e"},{"x":8490,"y":271,"g":"e"},{"x":9209,"y":143,"g":"e"},{"x":7856,"y":300,"g":"e"},{"x":6998,"y":370,"g":"e"},{"x":6607,"y":260,"g":"e"},{"x":7414,"y":210,"g":"e"},{"x":6386,"y":330,"g":"e"},{"x":7162,"y":190,"g":"e"},{"x":7761,"y":160,"g":"e"},{"x":9756,"y":515,"g":"e"},{"x":11083,"y":382,"g":"e"},{"x":9889,"y":360,"g":"e"},{"x":8809,"y":240,"g":"e"},{"x":8316,"y":300,"g":"e"},{"x":9333,"y":200,"g":"e"},{"x":11510,"y":450,"g":"e"},{"x":14570,"y":350,"g":"e"},{"x":10480,"y":560,"g":"e"},{"x":13260,"y":520,"g":"e"},{"x":15630,"y":460,"g":"e"},{"x":12350,"y":320,"g":"e"},
{"x":2400,"y":160,"g":"e"},{"x":2650,"y":95,"g":"e"},{"x":3050,"y":160,"g":"e"},{"x":3350,"y":120,"g":"e"},{"x":3800,"y":230,"g":"e"},{"x":4300,"y":300,"g":"e"},{"x":4800,"y":330,"g":"e"},{"x":5300,"y":300,"g":"e"},{"x":6200,"y":250,"g":"e"},{"x":6800,"y":230,"g":"e"},{"x":7200,"y":330,"g":"e"},{"x":8000,"y":390,"g":"e"},{"x":8900,"y":330,"g":"e"},{"x":10000,"y":420,"g":"e"},{"x":12000,"y":400,"g":"e"}
]
},
"encoding":{
"x":{"field":"x","type":"quantitative","scale":{"type":"log","domain":[8,20000],"nice":false},
 "axis":{"values":[8,9,10,20,30,40,50,60,70,80,90,100,200,300,400,500,600,700,800,900,1000,2000,3000,4000,5000,6000,7000,8000,9000,10000,20000],
 "format":"~g",
 "labelExpr":"indexof([10,20,30,40,60,100,200,300,500,1000,2000,4000,10000], datum.value) >= 0 ? datum.label : ''",
 "labelFont":"DejaVu Sans Condensed, DejaVu Sans, sans-serif",
 "labelFontSize":{"condition":{"test":"indexof([10,100,1000,10000], datum.value) >= 0","value":31},"value":19},
 "tickSize":{"condition":{"test":"indexof([10,100,1000,10000], datum.value) >= 0","value":13},"value":7},
 "labelPadding":{"condition":{"test":"indexof([10,100,1000,10000], datum.value) >= 0","value":7},"value":14},
 "labelBaseline":"top","labelOverlap":false,"labelFlush":false,"labelColor":"#1a1a1a",
 "tickColor":"black","tickWidth":1.5,"domainColor":"black","domainWidth":2,"grid":false,
 "title":"可住地人口密度（人／km2）","titleFont":"Noto Sans CJK JP","titleFontSize":25,"titleFontWeight":"normal","titleColor":"#1a1a1a",
 "titleX":332,"titleY":78,"titleAlign":"center","titleBaseline":"middle"}},
"y":{"field":"y","type":"quantitative","scale":{"type":"log","domain":[0.1,2000],"nice":false},
 "axis":{"values":[0.1,0.2,0.3,0.4,0.5,0.6,0.7,0.8,0.9,1,2,3,4,5,6,7,8,9,10,20,30,40,50,60,70,80,90,100,200,300,400,500,600,700,800,900,1000,2000],
 "format":"~g",
 "labelExpr":"indexof([0.1,0.2,0.4,0.6,1,2,4,6,10,20,40,60,100,200,400,600,1000,2000], datum.value) >= 0 ? datum.label : ''",
 "labelFont":"DejaVu Sans",
 "labelFontSize":{"condition":{"test":"indexof([0.1,1,10,100,1000], datum.value) >= 0","value":24},"value":17},
 "tickSize":{"condition":{"test":"indexof([0.1,1,10,100,1000], datum.value) >= 0","value":11},"value":6},
 "labelPadding":{"condition":{"test":"indexof([0.1,1,10,100,1000], datum.value) >= 0","value":6},"value":11},
 "labelOverlap":false,"labelFlush":false,"labelColor":"#1a1a1a",
 "tickColor":"black","tickWidth":1.5,"domainColor":"black","domainWidth":2,"grid":false,
 "title":["公","共","交","通","の","総","合","ア","ク","セ","シ","ビ","リ","テ","ィ","指","標"],
 "titleAngle":0,"titleX":-129,"titleY":34,"titleAlign":"center","titleBaseline":"middle",
 "titleFont":"Noto Sans CJK JP","titleFontSize":34,"titleLineHeight":36.5,"titleFontWeight":"normal","titleColor":"#1a1a1a"}}
},
"layer":[
{"data":{"name":"pts"},
 "mark":{"type":"square","size":46,"opacity":1},
 "encoding":{"color":{"field":"g","type":"nominal",
  "scale":{"domain":["a","b","c","d","e"],"range":["#2b3bff","#1f7bb5","#00e000","#b5650a","#ff1010"]},
  "legend":{"title":"人口規模","orient":"none","legendX":680,"legendY":21,"padding":0,
   "symbolType":"circle","symbolSize":460,"symbolStrokeWidth":0,"symbolOpacity":1,
   "labelFont":"Noto Sans CJK JP","labelFontSize":21,"labelColor":"#1a1a1a","labelOffset":20,
   "titleFont":"Noto Sans CJK JP","titleFontSize":22,"titleFontWeight":"bold","titleColor":"#111","titlePadding":21,
   "rowPadding":17,
   "labelExpr":"{'a':'1万人未満','b':'1～3万人','c':'3～10万人','d':'10～30万人','e':'30万人～'}[datum.label]"}}}},
{"data":{"values":[{"x":12.71,"y":0.3553},{"x":15680,"y":653.5}]},
 "mark":{"type":"line","color":"#ff0000","strokeWidth":6,"strokeCap":"butt"}},
{"data":{"values":[{"x":8,"x2":2750,"y":600,"y2":600},{"x":8,"x2":2750,"y":120,"y2":120},{"x":2750,"x2":2750,"y":0.1,"y2":120}]},
 "mark":{"type":"rule","color":"black","strokeWidth":1.6,"strokeDash":[7,5]},
 "encoding":{"x2":{"field":"x2"},"y2":{"field":"y2"}}},
{"data":{"values":[{"x":17.99,"y":3223,"x2":15.9,"y2":2050},{"x":43.85,"y":67.7,"x2":29.5,"y2":170},{"x":2750,"y":520,"x2":2750,"y2":130},{"x":5162,"y":0.1161,"x2":23000,"y2":0.236}]},
 "mark":{"type":"rule","color":"black","strokeWidth":2},
 "encoding":{"x2":{"field":"x2"},"y2":{"field":"y2"}}},
{"data":{"values":[{"x":4240,"y":1101,"x2":3000,"y2":690}]},
 "mark":{"type":"rule","color":"#ff0000","strokeWidth":2},
 "encoding":{"x2":{"field":"x2"},"y2":{"field":"y2"}}},
{"data":{"values":[{"x":5.525,"y":615.8},{"x":5.525,"y":122.9}]},
 "mark":{"type":"point","shape":"M-1,0A1,0.372,0,1,1,1,0A1,0.372,0,1,1,-1,0Z","size":8836,"filled":false,"stroke":"#ff0000","strokeWidth":2,"opacity":1}},
{"data":{"values":[{"x":2669,"y":0.1}]},
 "mark":{"type":"point","shape":"M-1,0A1,0.517,0,1,1,1,0A1,0.517,0,1,1,-1,0Z","size":13456,"filled":false,"stroke":"black","strokeWidth":3,"opacity":1}},
{"data":{"values":[{"x":1.361,"x2":332.4,"y":8250,"y2":3271},{"x":2.515,"x2":528,"y":64.74,"y2":23.84}]},
 "mark":{"type":"rect","fill":"white","stroke":"black","strokeWidth":1.6},
 "encoding":{"x2":{"field":"x2"},"y2":{"field":"y2"}}},
{"data":{"values":[{"x":20945,"x2":153300,"y":1802,"y2":948.9}]},
 "mark":{"type":"rect","fill":"#f4f4f4"},
 "encoding":{"x2":{"field":"x2"},"y2":{"field":"y2"}}},
{"data":{"values":[{"x":21.15,"y":5118,"t":"A市–総合アクセシビリティ指標"}]},
 "mark":{"type":"text","font":"Noto Sans CJK JP","fontSize":30,"color":"#ff0000","align":"center","baseline":"middle"},
 "encoding":{"text":{"field":"t"}}},
{"data":{"values":[{"x":36.43,"y":38.99,"t":"標準総合アクセシビリティ指標"}]},
 "mark":{"type":"text","font":"Noto Sans CJK JP","fontSize":29.5,"color":"#1a1a1a","align":"center","baseline":"middle"},
 "encoding":{"text":{"field":"t"}}},
{"data":{"values":[{"x":15.83,"y":977.5,"t":"600"},{"x":13.62,"y":170.7,"t":"120"},{"x":1930,"y":992,"t":"A市"}]},
 "mark":{"type":"text","font":"DejaVu Sans, Noto Sans CJK JP","fontSize":44,"color":"#111","align":"center","baseline":"middle"},
 "encoding":{"text":{"field":"t"}}},
{"data":{"values":[{"x":112,"y":0.4647,"t":"n=1,687"}]},
 "mark":{"type":"text","font":"DejaVu Sans Condensed, DejaVu Sans, sans-serif","fontSize":44,"color":"#111","align":"center","baseline":"middle"},
 "encoding":{"text":{"field":"t"}}},
{"data":{"values":[{"x":32890,"y":0.3448,"t":"同一の人口密度での"},{"x":32140,"y":0.1496,"t":"A市総合アクセシビリティ指標"}]},
 "mark":{"type":"text","font":"Noto Sans CJK JP","fontSize":44,"color":"#111","align":"left","baseline":"middle"},
 "encoding":{"text":{"field":"t"}}},
{"data":{"values":[{"x":15.83,"y":1970}]},
 "mark":{"type":"point","shape":"M0,0L0.8,2L-0.8,2Z","size":324,"angle":198,"filled":true,"color":"black","opacity":1}},
{"data":{"values":[{"x":28.58,"y":181.2}]},
 "mark":{"type":"point","shape":"M0,0L0.8,2L-0.8,2Z","size":324,"angle":330,"filled":true,"color":"black","opacity":1}},
{"data":{"values":[{"x":2750,"y":546}]},
 "mark":{"type":"point","shape":"M0,0L0.9,2L-0.9,2Z","size":300,"angle":0,"filled":true,"color":"black","opacity":1}},
{"data":{"values":[{"x":2750,"y":123}]},
 "mark":{"type":"point","shape":"M0,0L0.9,2L-0.9,2Z","size":300,"angle":180,"filled":true,"color":"black","opacity":1}},
{"data":{"values":[{"x":24910,"y":0.2484}]},
 "mark":{"type":"point","shape":"M0,0L0.8,2L-0.8,2Z","size":324,"angle":69,"filled":true,"color":"black","opacity":1}},
{"data":{"values":[{"x":2894,"y":653.5}]},
 "mark":{"type":"point","shape":"M0,0L0.8,2L-0.8,2Z","size":160,"angle":223,"filled":true,"color":"#ff0000","opacity":1}}
]
}
